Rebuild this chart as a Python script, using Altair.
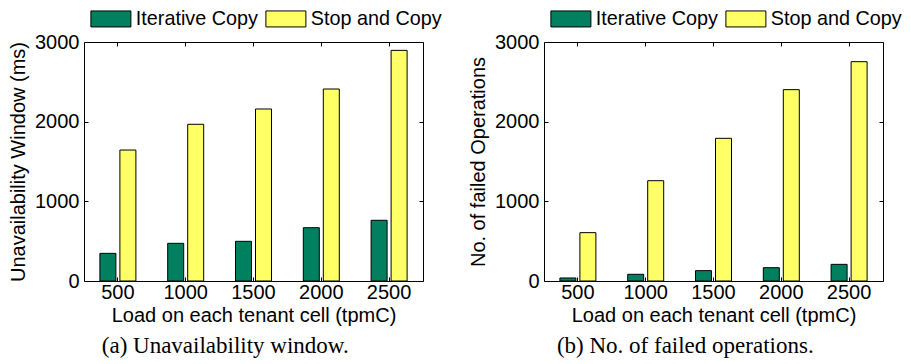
import altair as alt
import pandas as pd

loads = ["500", "1000", "1500", "2000", "2500"]
series = ["Iterative Copy", "Stop and Copy"]
unavail_iter = [347, 473, 498, 669, 762]
unavail_stop = [1644, 1967, 2159, 2410, 2895]
failed_iter = [38, 84, 130, 167, 209]
failed_stop = [607, 1259, 1791, 2402, 2753]
colors = ["#00805F", "#FFFF66"]
y_ticks = [0, 1000, 2000, 3000]

FONT = "Liberation Sans"
SERIF = "Liberation Serif"
FS = 20


def make_df(a, b):
    rows = []
    for i, l in enumerate(loads):
        rows.append({"load": l, "series": series[0], "value": a[i]})
        rows.append({"load": l, "series": series[1], "value": b[i]})
    return pd.DataFrame(rows)


def panel(df, ytitle, caption):
    xscale = alt.Scale(paddingInner=0.469, paddingOuter=0.2345)
    yscale = alt.Scale(domain=[0, 3000], nice=False)
    xo = alt.XOffset("series:N", sort=series,
                     scale=alt.Scale(paddingInner=0.2, paddingOuter=0))
    bars = alt.Chart(df).mark_bar(stroke="black", strokeWidth=1).encode(
        x=alt.X("load:N", sort=loads, scale=xscale,
                axis=alt.Axis(title="Load on each tenant cell (tpmC)", orient="bottom",
                              labelAngle=0, domain=False, grid=False, tickSize=4,
                              offset=-4, labelPadding=1, titlePadding=3)),
        y=alt.Y("value:Q", scale=yscale,
                axis=alt.Axis(title=ytitle, orient="left", values=y_ticks, format="d",
                              domain=False, grid=False, tickSize=4, offset=-4,
                              labelPadding=5, titlePadding=6)),
        xOffset=xo,
        color=alt.Color("series:N", sort=series,
                        scale=alt.Scale(domain=series, range=colors),
                        legend=alt.Legend(title=None, orient="none", legendX=17, legendY=-33,
                                          direction="horizontal",
                                          symbolType="M-2.5,-1H2.5V1H-2.5Z", symbolSize=256,
                                          symbolStrokeColor="black", symbolStrokeWidth=1,
                                          symbolOpacity=1, labelFont=FONT, labelFontSize=19.8,
                                          labelColor="black", labelOffset=15,
                                          columnPadding=5, padding=0)),
    )
    frame = alt.Chart(df).mark_bar(opacity=0).encode(
        x=alt.X("load:N", sort=loads, scale=xscale,
                axis=alt.Axis(title=None, orient="top", labels=False, domain=False,
                              grid=False, tickSize=4, offset=-4, minExtent=0)),
        y=alt.Y("value:Q", scale=yscale,
                axis=alt.Axis(title=None, orient="right", labels=False, values=y_ticks,
                              domain=False, grid=False, tickSize=4, offset=-4, minExtent=0)),
        xOffset=xo,
    )
    return alt.layer(bars, frame).resolve_axis(x="independent", y="independent").properties(
        width=339, height=239,
        title=alt.Title(caption, orient="bottom", font=SERIF, fontSize=23,
                        fontWeight="normal", color="black", offset=10, frame="bounds"),
    )


left = panel(make_df(unavail_iter, unavail_stop), "Unavailability Window (ms)",
             "(a) Unavailability window.")
right = panel(make_df(failed_iter, failed_stop), "No. of failed Operations",
              "(b) No. of failed operations.")

chart = alt.hconcat(left, right, spacing=25).resolve_scale(color="independent").resolve_legend(
    color="independent"
).properties(
    padding={"left": 0, "top": 0, "right": 0, "bottom": 0}
).configure_view(stroke="black", strokeWidth=1).configure_axis(
    labelFont=FONT, labelFontSize=FS, labelColor="black", titleFont=FONT,
    titleFontSize=FS, titleFontWeight="normal", titleColor="black",
    tickColor="black", tickWidth=1
)

chart.save("out.html", embed_options={"renderer": "svg", "actions": False})
